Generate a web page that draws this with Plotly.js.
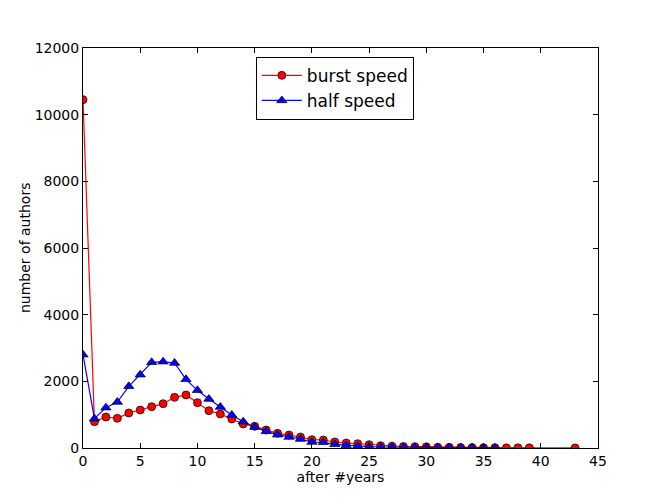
<!DOCTYPE html>
<html>
<head>
<meta charset="utf-8">
<script src="https://cdn.plot.ly/plotly-3.0.1.min.js"></script>
<style>html,body{margin:0;padding:0;background:#fff;}#chart{width:664px;height:498px;}</style>
</head>
<body>
<div id="chart"></div>
<script>
const burstYears = [0,1,2,3,4,5,6,7,8,9,10,11,12,13,14,15,16,17,18,19,20,21,22,23,24,25,26,27,28,29,30,31,32,33,34,35,36,37,38,39,43];
const burstCounts = [10450,790,930,890,1050,1140,1240,1330,1520,1590,1360,1120,1020,870,720,650,540,440,390,330,250,240,180,150,130,100,70,55,45,40,35,25,20,15,12,10,8,6,5,4,2];
const halfYears = [0,1,2,3,4,5,6,7,8,9,10,11,12,13,14,15,16,17,18,19,20,21,22,23,24,25,26,27,28,29,30,31,32,33,34,35,36];
const halfCounts = [2800,880,1210,1380,1850,2200,2570,2590,2550,2060,1730,1470,1230,990,790,630,500,400,330,270,180,170,110,80,60,40,30,25,20,15,12,10,8,6,5,4,3];
const xTicks = [0,5,10,15,20,25,30,35,40,45];
const yTicks = [0,2000,4000,6000,8000,10000,12000];

const font = {family: 'DejaVu Sans', size: 14, color: '#000'};

const traces = [
  {x: burstYears, y: burstCounts, name: 'burst speed', type: 'scatter', mode: 'lines+markers',
   line: {color: '#ff0000', width: 1.2}, marker: {symbol: 'circle', size: 8, color: '#ff0000', line: {color: '#000', width: 0.7}}},
  {x: halfYears, y: halfCounts, name: 'half speed', type: 'scatter', mode: 'lines+markers',
   line: {color: '#0000ff', width: 1.2}, marker: {symbol: 'triangle-up', size: 9, color: '#0000ff', line: {color: '#000', width: 0.7}}}
];

const axisCommon = {
  showgrid: false, zeroline: false, showline: true, linecolor: '#000', linewidth: 1,
  mirror: 'ticks', ticks: 'inside', ticklen: 5, tickwidth: 1, tickcolor: '#000',
  tickfont: font
};

const layout = {
  width: 664, height: 498,
  margin: {l: 83, r: 66, t: 48, b: 50},
  paper_bgcolor: '#fff', plot_bgcolor: '#fff',
  font: font,
  showlegend: true,
  legend: {x: 0.489, xanchor: 'center', y: 0.978, yanchor: 'top', bordercolor: '#000', borderwidth: 1,
           itemwidth: 40, bgcolor: '#fff', font: {family: 'DejaVu Sans', size: 17, color: '#000'}},
  xaxis: Object.assign({}, axisCommon, {range: [0, 45], tickvals: xTicks, ticktext: xTicks.map(String),
           title: {text: 'after #years', font: font, standoff: 4}}),
  yaxis: Object.assign({}, axisCommon, {range: [0, 12000], tickvals: yTicks, ticktext: yTicks.map(String)}),
  annotations: [{text: 'number of authors', xref: 'paper', yref: 'paper', x: -0.1126, y: 0.5,
                 xanchor: 'center', yanchor: 'middle', textangle: -90, showarrow: false, font: font}]
};

Plotly.newPlot('chart', traces, layout, {displayModeBar: false, staticPlot: true});
</script>
</body>
</html>
